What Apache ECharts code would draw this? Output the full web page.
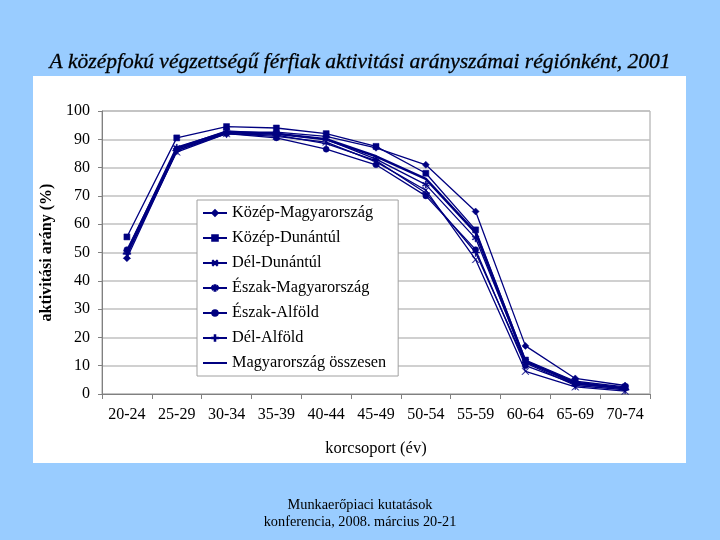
<!DOCTYPE html>
<html><head><meta charset="utf-8">
<script src="https://cdn.jsdelivr.net/npm/echarts@6/dist/echarts.min.js"></script>
<style>html,body{margin:0;padding:0;background:#99ccff;}#c{width:720px;height:540px;}</style>
</head><body><div id="c"></div>
<script>
const categories = ['20-24','25-29','30-34','35-39','40-44','45-49','50-54','55-59','60-64','65-69','70-74'];
const kozepMagyarorszag = [48, 86, 92.5, 92.5, 91, 87, 81, 64.5, 17, 5.5, 3];
const kozepDunantul = [55.5, 90.5, 94.5, 94, 92, 87.5, 78, 58, 12, 4.5, 2.5];
const delDunantul = [49, 85.5, 92, 91, 89, 82, 72, 47.5, 8, 2.5, 1];
const eszakMagyarorszag = [50, 87, 93, 92, 90, 83, 74, 55, 11.5, 3.5, 2];
const eszakAlfold = [51, 86.5, 92, 90.5, 86.5, 81, 70, 51, 10, 3.5, 2];
const delAlfold = [49.5, 86, 92, 91.5, 88.5, 82.5, 71, 50, 11, 3, 1.5];
const osszesen = [50, 87, 92.5, 92, 90, 84, 76, 57, 11.5, 4, 2];
const yTicks = [0,10,20,30,40,50,60,70,80,90,100];

const navy = '#000080';
const serif = '"Liberation Serif","DejaVu Serif",serif';
const xPath = 'path://M0,0L10,10M10,0L0,10M0.6,0L10,9.4M9.4,0L0,9.4M0,0.6L9.4,10M10,0.6L0.6,10';
const plusPath = 'path://M4.5,0H5.5V4.5H10V5.5H5.5V10H4.5V5.5H0V4.5H4.5Z';
const starPath = 'path://M4.3,0H5.7V3.3L8.6,1.6L9.3,2.8L6.4,4.5L9.3,6.2L8.6,7.4L5.7,5.7V10H4.3V5.7L1.4,7.4L0.7,6.2L3.6,4.5L0.7,2.8L1.4,1.6L4.3,3.3Z';

function s(name, data, symbol, size, width) {
  return {
    name, type: 'line', data, symbol, symbolSize: size,
    showSymbol: symbol !== 'none',
    lineStyle: { color: navy, width: width },
    itemStyle: { color: navy, borderColor: navy, borderWidth: 0.5 },
    emphasis: { disabled: true },
    animation: false
  };
}

const chart = echarts.init(document.getElementById('c'));
chart.setOption({
  backgroundColor: '#99ccff',
  animation: false,
  title: {
    text: 'A középfokú végzettségű férfiak aktivitási arányszámai régiónként, 2001',
    left: 'center', top: 46,
    textStyle: { fontFamily: serif, fontStyle: 'italic', fontWeight: 'normal', fontSize: 21.5, color: '#000',
      textBorderColor: '#000', textBorderWidth: 0.3 }
  },
  graphic: [
    { type: 'rect', z: -10, shape: { x: 33, y: 76, width: 653, height: 387 }, style: { fill: '#ffffff' } },
    { type: 'text', left: 'center', top: 496, style: { text: 'Munkaerőpiaci kutatások\nkonferencia, 2008. március 20-21', fontFamily: serif, fontSize: 14.3, lineHeight: 17.5, fill: '#000', textAlign: 'center' } }
  ],
  grid: { left: 102, right: 70, top: 111, bottom: 146, show: true, borderColor: '#a0a0a0', borderWidth: 1, backgroundColor: 'transparent' },
  legend: {
    orient: 'vertical', left: 197, top: 200,
    backgroundColor: '#fff', borderColor: '#a0a0a0', borderWidth: 1,
    padding: [4, 12, 4, 5], itemGap: 7, itemWidth: 24, itemHeight: 7,
    textStyle: { fontFamily: serif, fontSize: 16.3, lineHeight: 18, color: '#000' },
    data: ['Közép-Magyarország','Közép-Dunántúl','Dél-Dunántúl','Észak-Magyarország','Észak-Alföld','Dél-Alföld',
      { name: 'Magyarország összesen', itemStyle: { opacity: 0 } }]
  },
  xAxis: {
    type: 'category', data: categories, boundaryGap: true,
    name: 'korcsoport (év)', nameLocation: 'middle', nameGap: 46,
    nameTextStyle: { fontFamily: serif, fontSize: 16.5, color: '#000' },
    axisLine: { lineStyle: { color: '#808080' } },
    axisTick: { show: true, length: 5, lineStyle: { color: '#808080' } },
    axisLabel: { fontFamily: serif, fontSize: 16, color: '#000', margin: 13 }
  },
  yAxis: {
    type: 'value', min: 0, max: 100, interval: 10,
    name: 'aktivitási arány (%)', nameLocation: 'middle', nameGap: 44,
    nameTextStyle: { fontFamily: serif, fontSize: 16, fontWeight: 'bold', color: '#000' },
    axisLine: { show: true, lineStyle: { color: '#808080' } },
    axisTick: { show: true, length: 4, lineStyle: { color: '#808080' } },
    axisLabel: { fontFamily: serif, fontSize: 16, color: '#000', margin: 12,
      formatter: v => yTicks.indexOf(v) >= 0 ? String(v) : '' },
    splitLine: { lineStyle: { color: '#c0c0c0', width: 1.5 } }
  },
  series: [
    s('Közép-Magyarország', kozepMagyarorszag, 'diamond', 7, 1.3),
    s('Közép-Dunántúl', kozepDunantul, 'rect', 6, 1.3),
    s('Dél-Dunántúl', delDunantul, xPath, 7, 1.3),
    s('Észak-Magyarország', eszakMagyarorszag, starPath, 7, 1.3),
    s('Észak-Alföld', eszakAlfold, 'circle', 6, 1.3),
    s('Dél-Alföld', delAlfold, plusPath, 8, 1.3),
    s('Magyarország összesen', osszesen, 'none', 0, 2.5)
  ]
});
</script></body></html>
